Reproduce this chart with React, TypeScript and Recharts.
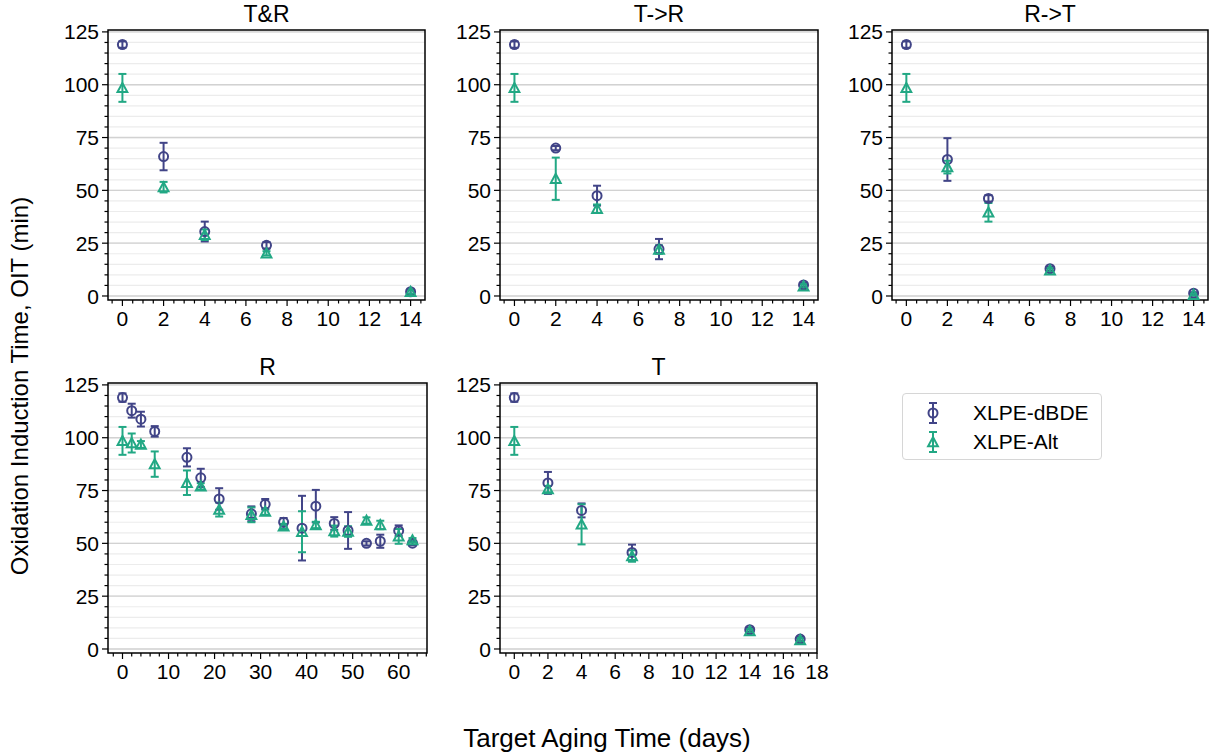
import React from "react";
import {
  ScatterChart,
  Scatter,
  XAxis,
  YAxis,
  CartesianGrid,
  ErrorBar,
  ReferenceArea,
} from "recharts";

const BLUE = "#414487";
const GREEN = "#22a884";
const FONT = "'Liberation Sans', Arial, sans-serif";

// ---- data (days, mean OIT, error) ----
const trDays = [0, 2, 4, 7, 14];
const trDbde = [119, 66, 30.5, 24, 2];
const trDbdeErr = [1.5, 6.5, 4.7, 1.5, 1];
const trAlt = [98.5, 51.5, 29, 20.2, 2];
const trAltErr = [6.6, 2.5, 2.5, 1, 1];

const t2rDays = [0, 2, 4, 7, 14];
const t2rDbde = [119, 70, 47.5, 22.2, 5.2];
const t2rDbdeErr = [1.5, 1, 4.7, 4.8, 1];
const t2rAlt = [98.5, 55.5, 41.3, 22, 4.6];
const t2rAltErr = [6.6, 10, 2, 2, 1];

const r2tDays = [0, 2, 4, 7, 14];
const r2tDbde = [119, 64.6, 46.2, 12.9, 1.3];
const r2tDbdeErr = [1.5, 10.1, 1.5, 1, 0.5];
const r2tAlt = [98.5, 61, 39.6, 12.2, 0.6];
const r2tAltErr = [6.6, 3, 4.4, 1, 0.5];

const rDays = [0, 2, 4, 7, 14, 17, 21, 28, 31, 35, 39, 42, 46, 49, 53, 56, 60, 63];
const rDbde = [119, 112.8, 108.8, 103, 90.7, 81, 71, 64, 68.5, 60, 57.2, 67.6, 59.4, 56.1, 50, 51, 56, 50.1];
const rDbdeErr = [2, 3.3, 3.5, 2.5, 4.3, 4.3, 5.1, 3.5, 2.5, 2, 15.3, 7.7, 3, 8.7, 1, 3.1, 2.5, 1];
const rAlt = [98.5, 97.5, 96.8, 87.5, 78.7, 77, 66, 63.5, 65, 58, 55.5, 58.7, 55.8, 55.6, 60.8, 58.7, 53.3, 51.5];
const rAltErr = [6.6, 4.5, 1.6, 6, 5.8, 1.5, 3.3, 3.5, 1.5, 1.2, 9.7, 1.5, 2.6, 2.5, 1.5, 2, 3.5, 1];

const tDays = [0, 2, 4, 7, 14, 17];
const tDbde = [119, 78.6, 65.6, 45.7, 9.1, 4.7];
const tDbdeErr = [2, 5.2, 3.3, 3.7, 1, 1];
const tAlt = [98.5, 75.7, 59, 44, 8.5, 4.2];
const tAltErr = [6.6, 1.5, 9.5, 2.7, 1, 1];

// ---- ticks ----
const yMajor = [0, 25, 50, 75, 100, 125];
const yMinor = Array.from({ length: 26 }, (_, i) => i * 5);
const x14Major = [0, 2, 4, 6, 8, 10, 12, 14];
const x14Minor = Array.from({ length: 31 }, (_, i) => -0.5 + i * 0.5);
const x63Major = [0, 10, 20, 30, 40, 50, 60];
const x63Minor = Array.from({ length: 35 }, (_, i) => -2 + i * 2);
const x18Major = [0, 2, 4, 6, 8, 10, 12, 14, 16, 18];
const x18Minor = Array.from({ length: 38 }, (_, i) => -0.5 + i * 0.5);

const Y_DOMAIN: [number, number] = [-1.9, 125.9];
const AXIS_W = 60;
const AXIS_H = 40;
const MT = 16;
const MR = 16;
const MB = 5;
const ML = 5;
const SW = 2;

const rows = (days: number[], vals: number[], errs: number[]) =>
  days.map((d, i) => ({ x: d, y: vals[i], e: errs[i] }));

const Circle = (props: any) => {
  const { cx, cy } = props;
  if (cx == null || cy == null) return null;
  return <circle cx={cx} cy={cy} r={4.5} fill="none" stroke={BLUE} strokeWidth={SW} />;
};

const Triangle = (props: any) => {
  const { cx, cy } = props;
  if (cx == null || cy == null) return null;
  const s = 4.9;
  return (
    <polygon
      points={`${cx},${cy - s} ${cx - s},${cy + s * 0.85} ${cx + s},${cy + s * 0.85}`}
      fill="none"
      stroke={GREEN}
      strokeWidth={SW}
      strokeLinejoin="miter"
    />
  );
};

const makeYTick = (major: number[]) => (props: any) => {
  const { x, y, payload } = props;
  const isMajor = major.includes(payload.value);
  const len = isMajor ? 6 : 3.5;
  return (
    <g>
      <line x1={x - len} x2={x} y1={y} y2={y} stroke="#000" strokeWidth={1.2} />
      {isMajor && (
        <text x={x - len - 3} y={y} dy="0.36em" textAnchor="end" fontSize={21} fontFamily={FONT} fill="#000">
          {payload.value}
        </text>
      )}
    </g>
  );
};

const makeXTick = (major: number[]) => (props: any) => {
  const { x, y, payload } = props;
  const isMajor = major.includes(payload.value);
  const len = isMajor ? 6 : 3.5;
  return (
    <g>
      <line x1={x} x2={x} y1={y} y2={y + len} stroke="#000" strokeWidth={1.2} />
      {isMajor && (
        <text x={x} y={y + len + 20} textAnchor="middle" fontSize={21} fontFamily={FONT} fill="#000">
          {payload.value}
        </text>
      )}
    </g>
  );
};

interface PanelProps {
  title: string;
  left: number;
  top: number;
  w: number;
  h: number;
  xDomain: [number, number];
  xMajor: number[];
  xMinor: number[];
  dbde: { x: number; y: number; e: number }[];
  alt: { x: number; y: number; e: number }[];
}

function Panel({ title, left, top, w, h, xDomain, xMajor, xMinor, dbde, alt }: PanelProps) {
  return (
    <>
      <div
        style={{
          position: "absolute",
          left,
          top: top - 29,
          width: w,
          textAlign: "center",
          fontSize: 23,
          fontFamily: FONT,
          lineHeight: "26px",
        }}
      >
        {title}
      </div>
      <div style={{ position: "absolute", left: left - AXIS_W - ML, top: top - MT }}>
        <ScatterChart
          width={w + AXIS_W + ML + MR}
          height={h + AXIS_H + MT + MB}
          margin={{ top: MT, right: MR, bottom: MB, left: ML }}
        >
          <CartesianGrid vertical={false} horizontalValues={yMinor} stroke="#ececec" strokeWidth={1.2} />
          <CartesianGrid vertical={false} horizontalValues={yMajor} stroke="#d2d2d2" strokeWidth={1.4} />
          <XAxis
            type="number"
            dataKey="x"
            domain={xDomain}
            allowDataOverflow
            ticks={xMinor}
            interval={0}
            axisLine={false}
            tickLine={false}
            tickSize={0}
            tickMargin={0}
            height={AXIS_H}
            tick={makeXTick(xMajor)}
          />
          <YAxis
            type="number"
            dataKey="y"
            domain={Y_DOMAIN}
            allowDataOverflow
            ticks={yMinor}
            interval={0}
            axisLine={false}
            tickLine={false}
            tickSize={0}
            tickMargin={0}
            width={AXIS_W}
            tick={makeYTick(yMajor)}
          />
          <Scatter data={dbde} isAnimationActive={false} shape={<Circle />}>
            <ErrorBar dataKey="e" direction="y" width={4} stroke={BLUE} strokeWidth={SW} />
          </Scatter>
          <Scatter data={alt} isAnimationActive={false} shape={<Triangle />}>
            <ErrorBar dataKey="e" direction="y" width={4} stroke={GREEN} strokeWidth={SW} />
          </Scatter>
          <ReferenceArea
            x1={xDomain[0]}
            x2={xDomain[1]}
            y1={Y_DOMAIN[0]}
            y2={Y_DOMAIN[1]}
            fill="none"
            fillOpacity={0}
            stroke="#000"
            strokeWidth={1.5}
          />
        </ScatterChart>
      </div>
    </>
  );
}

const LegendIcon = ({ kind }: { kind: "c" | "t" }) => {
  const color = kind === "c" ? BLUE : GREEN;
  return (
    <svg width={24} height={26} style={{ display: "block" }}>
      <line x1={12} x2={12} y1={3} y2={23} stroke={color} strokeWidth={SW} />
      <line x1={8} x2={16} y1={3} y2={3} stroke={color} strokeWidth={SW} />
      <line x1={8} x2={16} y1={23} y2={23} stroke={color} strokeWidth={SW} />
      {kind === "c" ? (
        <circle cx={12} cy={13} r={4.5} fill="none" stroke={color} strokeWidth={SW} />
      ) : (
        <polygon points="12,8.1 7.1,17.2 16.9,17.2" fill="none" stroke={color} strokeWidth={SW} />
      )}
    </svg>
  );
};

export default function App() {
  return (
    <div
      style={{
        position: "absolute",
        left: 0,
        top: 0,
        width: 1210,
        height: 753,
        background: "#fff",
        fontFamily: FONT,
        overflow: "hidden",
      }}
    >
      <Panel title="T&R" left={108} top={30} w={317} h={270} xDomain={[-0.7, 14.7]} xMajor={x14Major} xMinor={x14Minor}
        dbde={rows(trDays, trDbde, trDbdeErr)} alt={rows(trDays, trAlt, trAltErr)} />
      <Panel title="T->R" left={500} top={30} w={318} h={270} xDomain={[-0.7, 14.7]} xMajor={x14Major} xMinor={x14Minor}
        dbde={rows(t2rDays, t2rDbde, t2rDbdeErr)} alt={rows(t2rDays, t2rAlt, t2rAltErr)} />
      <Panel title="R->T" left={892} top={30} w={316} h={270} xDomain={[-0.7, 14.7]} xMajor={x14Major} xMinor={x14Minor}
        dbde={rows(r2tDays, r2tDbde, r2tDbdeErr)} alt={rows(r2tDays, r2tAlt, r2tAltErr)} />
      <Panel title="R" left={108} top={383} w={319} h={270} xDomain={[-3.15, 66.15]} xMajor={x63Major} xMinor={x63Minor}
        dbde={rows(rDays, rDbde, rDbdeErr)} alt={rows(rDays, rAlt, rAltErr)} />
      <Panel title="T" left={500} top={383} w={317} h={270} xDomain={[-0.85, 18]} xMajor={x18Major} xMinor={x18Minor}
        dbde={rows(tDays, tDbde, tDbdeErr)} alt={rows(tDays, tAlt, tAltErr)} />

      <div
        style={{
          position: "absolute",
          left: 902,
          top: 393,
          width: 198,
          height: 65,
          border: "1.5px solid #d6d6d6",
          borderRadius: 4,
          background: "#fff",
        }}
      >
        {[
          { kind: "c" as const, label: "XLPE-dBDE" },
          { kind: "t" as const, label: "XLPE-Alt" },
        ].map((it, i) => (
          <div
            key={it.label}
            style={{ position: "absolute", left: 18, top: 6 + i * 29, display: "flex", alignItems: "center" }}
          >
            <LegendIcon kind={it.kind} />
            <span style={{ marginLeft: 28, fontSize: 21, lineHeight: "26px" }}>{it.label}</span>
          </div>
        ))}
      </div>

      <div
        style={{
          position: "absolute",
          left: 0,
          width: 1210,
          top: 723,
          textAlign: "center",
          fontSize: 26,
          lineHeight: "30px",
          paddingLeft: 2,
        }}
      >
        Target Aging Time (days)
      </div>
      <div
        style={{
          position: "absolute",
          left: 20,
          top: 386,
          transform: "translate(-50%, -50%) rotate(-90deg)",
          whiteSpace: "nowrap",
          fontSize: 24,
          lineHeight: "28px",
        }}
      >
        Oxidation Induction Time, OIT (min)
      </div>
    </div>
  );
}
